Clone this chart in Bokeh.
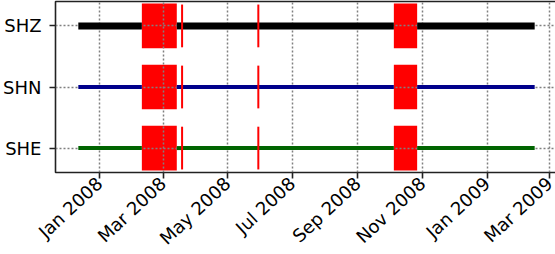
import pandas as pd
from bokeh.plotting import figure
from bokeh.models import FixedTicker, Range1d
from bokeh.embed import file_html
from bokeh.resources import INLINE

# ---- data ----
channels = ["SHZ", "SHN", "SHE"]
channel_y = [2, 1, 0]
channel_colors = ["#000000", "#00008B", "#006400"]
channel_widths = [7, 4, 4]
data_start = "2007-12-12"
data_end = "2009-02-15"
gap_starts = ["2008-02-10", "2008-03-19", "2008-05-30", "2008-10-05"]
gap_ends = ["2008-03-14", "2008-03-19", "2008-05-30", "2008-10-27"]
tick_dates = ["2008-01-01", "2008-03-01", "2008-05-01", "2008-07-01",
              "2008-09-01", "2008-11-01", "2009-01-01", "2009-03-01"]
tick_labels = ["Jan 2008", "Mar 2008", "May 2008", "Jul 2008",
               "Sep 2008", "Nov 2008", "Jan 2009", "Mar 2009"]


def ms(s):
    return pd.Timestamp(s).value / 1e6


t0, t1 = ms(data_start), ms(data_end)
margin = 0.05 * (t1 - t0)
Y0, Y1 = -0.4, 2.4

FONT = "DejaVu Sans"
GRID = "#808080"
FRAME = "#222222"

p = figure(frame_width=502, frame_height=171, x_axis_type="datetime",
           x_range=Range1d(t0 - margin, t1 + margin),
           y_range=Range1d(Y0, Y1),
           output_backend="svg", toolbar_location=None,
           min_border_left=51, min_border_right=2,
           min_border_top=1, min_border_bottom=82)
p.background_fill_color = "white"
p.border_fill_color = "white"
p.outline_line_color = FRAME
p.outline_line_width = 1.6
p.outline_line_alpha = 1

# wide gaps as boxes (below grid), short gaps as lines (on top of data)
bx0, bx1, by0, by1 = [], [], [], []
lx, ly0, ly1 = [], [], []
for y in channel_y:
    for a, b in zip(gap_starts, gap_ends):
        if ms(b) - ms(a) >= 86400000:
            bx0.append(ms(a)); bx1.append(ms(b))
            by0.append(y - 0.366); by1.append(y + 0.366)
        else:
            lx.append(ms(a)); ly0.append(y - 0.35); ly1.append(y + 0.35)
p.quad(left=bx0, right=bx1, bottom=by0, top=by1, fill_color="#FF0000",
       line_color=None, level="underlay")

# data segments
for y, c, w in zip(channel_y, channel_colors, channel_widths):
    edges = [t0]
    for a, b in zip(gap_starts, gap_ends):
        edges += [ms(a), ms(b)]
    edges.append(t1)
    xs0 = edges[0::2]
    xs1 = edges[1::2]
    p.segment(x0=xs0, y0=[y] * len(xs0), x1=xs1, y1=[y] * len(xs1),
              line_color=c, line_width=w, line_cap="butt", level="annotation")

p.segment(x0=lx, y0=ly0, x1=lx, y1=ly1, line_color="#FF0000", line_width=2,
          line_cap="butt", level="annotation")

# axes
xt = [ms(d) for d in tick_dates]
p.xaxis.ticker = FixedTicker(ticks=xt)
p.xaxis.major_label_overrides = {v: l for v, l in zip(xt, tick_labels)}
p.xaxis.major_label_orientation = 0.75
p.yaxis.ticker = FixedTicker(ticks=channel_y)
p.yaxis.major_label_overrides = {y: ch for y, ch in zip(channel_y, channels)}

for ax in (p.xaxis[0], p.yaxis[0]):
    ax.axis_line_color = None
    ax.major_tick_line_color = FRAME
    ax.major_tick_line_width = 1.6
    ax.major_tick_out = 6
    ax.major_tick_in = 0
    ax.minor_tick_line_color = None
    ax.major_label_text_font = FONT
    ax.major_label_text_font_size = "18px"
    ax.major_label_text_color = "#000000"
    ax.major_label_standoff = 8
p.xaxis.major_label_standoff = 2

for g in (p.xgrid[0], p.ygrid[0]):
    g.grid_line_color = GRID
    g.grid_line_dash = "2 2"
    g.grid_line_width = 1.5
    g.level = "glyph"

open("out.html", "w").write(file_html(p, INLINE))
